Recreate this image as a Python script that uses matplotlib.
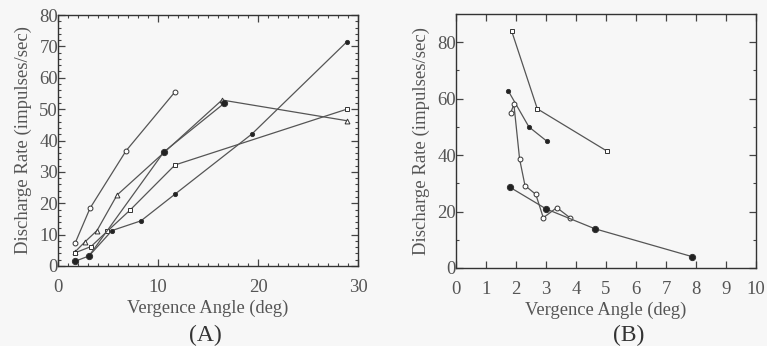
"""
Discharge rate against vergence angle, two panels (A) and (B)
"""
import matplotlib
matplotlib.use("Agg")
import matplotlib.pyplot as plt
from matplotlib.ticker import MultipleLocator

# panel A
a_open_circle_x = [1.7, 3.2, 6.8, 11.7]
a_open_circle_y = [7.2, 18.4, 36.7, 55.5]
a_triangle_x = [1.7, 2.7, 3.9, 5.9, 16.4, 28.9]
a_triangle_y = [4.5, 7.7, 11.3, 22.6, 52.9, 46.3]
a_big_dot_x = [1.7, 3.1, 10.6, 16.6]
a_big_dot_y = [1.5, 3.2, 36.4, 51.8]
a_square_x = [1.7, 3.3, 4.9, 7.2, 11.7, 28.9]
a_square_y = [4.2, 6.2, 11.0, 17.8, 32.2, 50.0]
a_small_dot_x = [3.1, 5.4, 8.3, 11.7, 19.4, 28.9]
a_small_dot_y = [3.2, 11.3, 14.4, 22.9, 42.1, 71.5]

# panel B
b_square_x = [1.86, 2.71, 5.02]
b_square_y = [83.8, 56.4, 41.5]
b_small_dot_x = [1.74, 2.43, 3.02]
b_small_dot_y = [62.8, 50.0, 45.0]
b_open_circle_x = [1.82, 1.93, 2.12, 2.30, 2.66, 2.91, 3.36, 3.80]
b_open_circle_y = [54.9, 58.0, 38.6, 29.2, 26.1, 17.8, 21.4, 17.8]
b_big_dot_x = [1.80, 3.01, 4.63, 7.88]
b_big_dot_y = [28.6, 20.9, 13.9, 4.0]

LINE = "#555555"
FONT = "Liberation Serif"

plt.rcParams["font.family"] = FONT


def draw(ax, x, y, marker, filled, size):
    face = "#222222" if filled else "white"
    ax.plot(x, y, color=LINE, linewidth=0.9, marker=marker, markersize=size,
            markerfacecolor=face, markeredgecolor="#333333", markeredgewidth=0.7)


def style(ax):
    ax.set_facecolor("#f7f7f7")
    for side in ax.spines.values():
        side.set_linewidth(1.0)
        side.set_color("#333333")
    ax.tick_params(which="both", direction="in", top=True, right=True,
                   colors="#444444", labelcolor="#555555", labelsize=13.5)
    ax.tick_params(which="major", length=5, width=0.9)
    ax.tick_params(which="minor", length=2.5, width=0.8)
    ax.tick_params(axis="y", pad=0)
    ax.tick_params(axis="x", pad=9)
    ax.set_xlabel("Vergence Angle (deg)", fontsize=13.3, color="#555555", labelpad=3)
    ax.set_ylabel("Discharge Rate (impulses/sec)", fontsize=13.5, color="#555555", labelpad=5)


fig = plt.figure(figsize=(7.67, 3.46), dpi=100, facecolor="#f7f7f7")

ax_a = fig.add_axes([58 / 767, 1 - 266 / 346, 300 / 767, 251 / 346])
draw(ax_a, a_open_circle_x, a_open_circle_y, "o", False, 3.5)
draw(ax_a, a_triangle_x, a_triangle_y, "^", False, 3.5)
draw(ax_a, a_square_x, a_square_y, "s", False, 3.5)
draw(ax_a, a_small_dot_x, a_small_dot_y, "o", True, 3)
draw(ax_a, a_big_dot_x, a_big_dot_y, "o", True, 4.5)
ax_a.set_xlim(0, 30)
ax_a.set_ylim(0, 80)
ax_a.xaxis.set_major_locator(MultipleLocator(10))
ax_a.xaxis.set_minor_locator(MultipleLocator(1))
ax_a.yaxis.set_major_locator(MultipleLocator(10))
ax_a.yaxis.set_minor_locator(MultipleLocator(2))
style(ax_a)

ax_b = fig.add_axes([456 / 767, 1 - 268 / 346, 300 / 767, 254 / 346])
draw(ax_b, b_square_x, b_square_y, "s", False, 3.5)
draw(ax_b, b_small_dot_x, b_small_dot_y, "o", True, 3)
draw(ax_b, b_open_circle_x, b_open_circle_y, "o", False, 3.5)
draw(ax_b, b_big_dot_x, b_big_dot_y, "o", True, 4.5)
ax_b.set_xlim(0, 10)
ax_b.set_ylim(0, 90)
ax_b.xaxis.set_major_locator(MultipleLocator(1))
ax_b.yaxis.set_major_locator(MultipleLocator(20))
ax_b.yaxis.set_minor_locator(MultipleLocator(10))
style(ax_b)

fig.text(205 / 767, 1 - 335 / 346, "(A)", fontsize=17, color="#333333",
         ha="center", va="center", family=FONT)
fig.text(629 / 767, 1 - 335 / 346, "(B)", fontsize=17, color="#333333",
         ha="center", va="center", family=FONT)

fig.savefig("out.png", dpi=100, facecolor=fig.get_facecolor())
